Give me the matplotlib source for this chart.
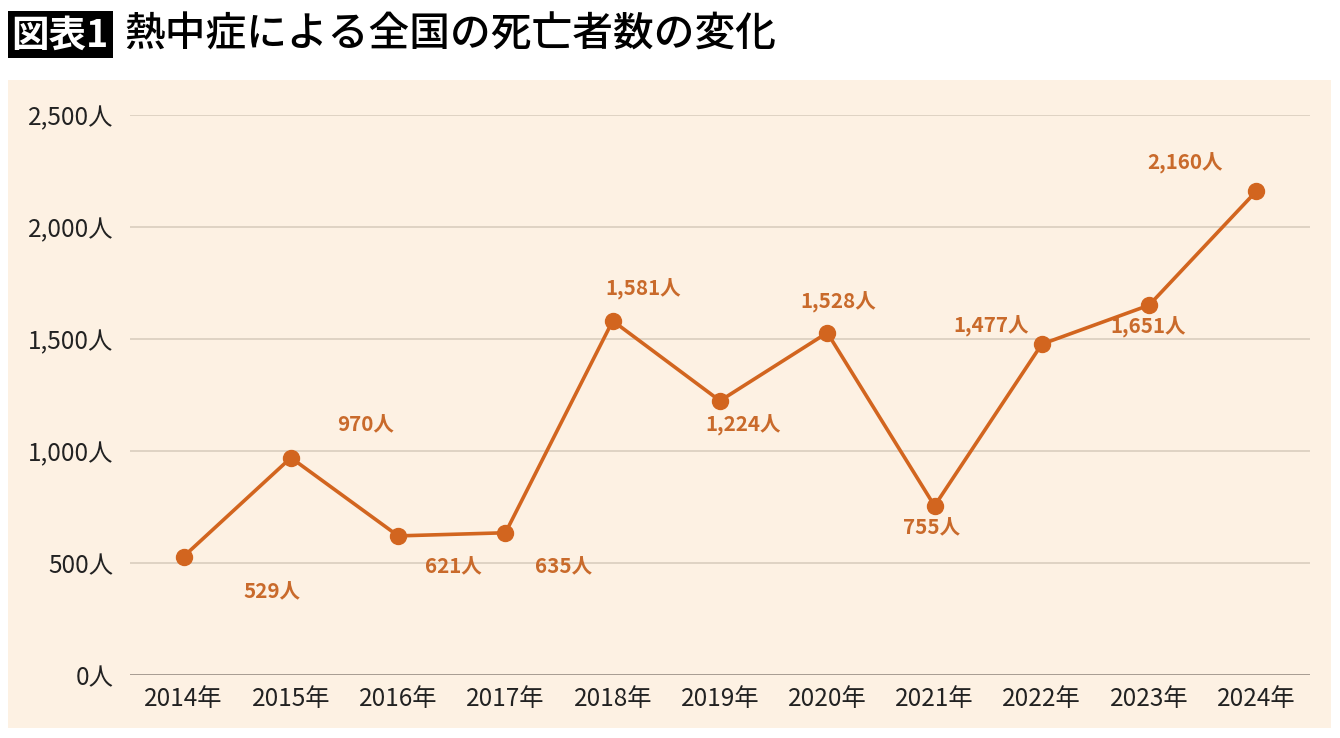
import matplotlib
matplotlib.use("Agg")
import matplotlib.pyplot as plt
from matplotlib.patches import Rectangle

plt.rcParams['font.family'] = ['Noto Sans CJK JP', 'DejaVu Sans']

years = ["2014年", "2015年", "2016年", "2017年", "2018年", "2019年",
         "2020年", "2021年", "2022年", "2023年", "2024年"]
deaths = [529, 970, 621, 635, 1581, 1224, 1528, 755, 1477, 1651, 2160]
yticks = [0, 500, 1000, 1500, 2000, 2500]
ytick_labels = ["0人", "500人", "1,000人", "1,500人", "2,000人", "2,500人"]
# label offsets in pixels (dx, dy) relative to each point
label_offsets = [(88, -35), (75, 33), (55, -31), (58, -34), (30, 32), (23, -24),
                 (11, 30), (-3, -22), (-51, 18), (-1, -22), (-71, 28)]

W, H = 1340, 738
fig = plt.figure(figsize=(W / 100, H / 100), dpi=100)
fig.patch.set_facecolor('white')

# cream panel
fig.patches.append(Rectangle((8 / W, (H - 728) / H), 1323 / W, 648 / H,
                             transform=fig.transFigure, facecolor='#FDF1E3',
                             edgecolor='none', zorder=-5))
# title box
fig.patches.append(Rectangle((8 / W, (H - 58) / H), 105 / W, 47 / H,
                             transform=fig.transFigure, facecolor='black',
                             edgecolor='none', zorder=-4))
fig.text(60 / W, (H - 35) / H, "図表1", color='white', fontsize=27,
         fontweight='bold', ha='center', va='center')
fig.text(124 / W, (H - 35) / H, "熱中症による全国の死亡者数の変化", color='black',
         fontsize=29.3, fontweight='medium', ha='left', va='center')

ax = fig.add_axes([130 / W, (H - 675) / H, 1180 / W, 560 / H])
ax.set_facecolor('none')
ax.set_zorder(2)
x = list(range(len(years)))
line_color = '#D2651F'
label_color = '#C96A2B'
ax.plot(x, deaths, color=line_color, lw=2.6, marker='o', markersize=11.5,
        zorder=3, solid_capstyle='round')

for xi, v, (dx, dy) in zip(x, deaths, label_offsets):
    ax.annotate(f"{v:,}人", (xi, v), xytext=(dx, dy), textcoords='offset pixels',
                ha='center', va='center', fontsize=14.8, fontweight='bold',
                color=label_color)

ax.set_xlim(-0.5, len(years) - 0.5)
ax.set_ylim(0, 2500)
ax.set_yticks(yticks)
ax.set_yticklabels(ytick_labels)
ax.set_xticks(x)
ax.set_xticklabels(years)
ax.tick_params(axis='both', length=0, labelsize=17.5, colors='#222222')
ax.tick_params(axis='y', pad=12)
ax.tick_params(axis='x', pad=8)
for s in ax.spines.values():
    s.set_visible(False)
for yt in yticks[1:]:
    ax.axhline(yt, color='#D9CDBE', lw=1.2, zorder=1)
ax.axhline(0, color='#A0968C', lw=1.3, zorder=1)

fig.savefig("out.png", dpi=100)
